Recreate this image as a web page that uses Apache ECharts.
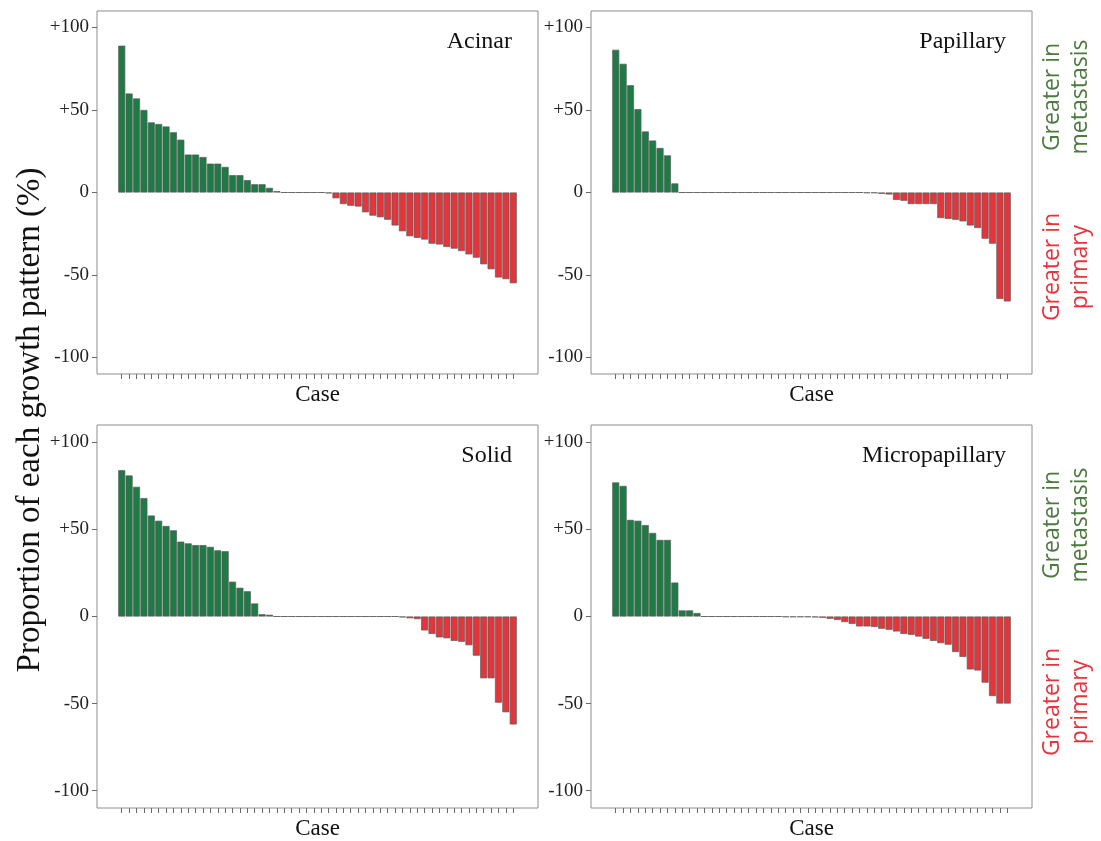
<!DOCTYPE html>
<html>
<head>
<meta charset="utf-8">
<title>Growth pattern differences</title>
<script src="https://cdn.jsdelivr.net/npm/echarts@6/dist/echarts.min.js"></script>
<style>
  html, body { margin: 0; padding: 0; background: #ffffff; }
  #chart { width: 1101px; height: 841px; }
</style>
</head>
<body>
<div id="chart"></div>
<script>
// Difference (metastasis minus primary) in the proportion of each growth pattern, per case, sorted.
const panelNames = ['Acinar', 'Papillary', 'Solid', 'Micropapillary'];

const acinar = [
  89, 60, 57, 50, 42.5, 41.5, 40, 36.5, 32, 23, 23, 21.5, 17.5, 17.5, 15.5, 10.5, 10.5, 7.5, 5, 5, 2.8,
  0.8, 0, 0, 0, 0, 0, 0, -0.5,
  -3.5, -7, -8, -8.5, -12, -14, -15, -16.5, -20, -23.5, -26.5, -27.5, -28.5, -31, -31.5, -33, -34,
  -35.5, -37.5, -39.5, -43.5, -46.5, -51.5, -52.5, -55
];
const papillary = [
  86.5, 78, 65, 50.5, 37, 31.5, 27, 22.5, 5.5,
  0, 0, 0, 0, 0, 0, 0, 0, 0, 0, 0, 0, 0, 0, 0, 0, 0, 0, 0, 0, 0, 0, 0, 0, 0, -0.3, -0.3,
  -0.8, -1.2, -4.5, -5, -7, -7, -7, -7, -15.5, -16, -16.5, -17.5, -20, -21.5, -28, -31, -64.5, -66
];
const solid = [
  84, 81, 74.5, 68, 58, 55, 52, 49.5, 43, 42, 41, 41, 40, 38, 37.5, 20, 16.5, 14.5, 7.5,
  1.3, 1,
  0, 0, 0, 0, 0, 0, 0, 0, 0, 0, 0, 0, 0, 0, 0, 0, 0,
  -0.5, -1, -1.5,
  -8, -10, -12, -12.5, -14, -14.5, -16.5, -22.5, -35.5, -35.5, -49.5, -55, -62
];
const micropapillary = [
  77, 75, 55.5, 55, 52.5, 48, 44, 44, 19.5, 3.5, 3.5, 2,
  0, 0, 0, 0, 0, 0, 0, 0, 0, 0, 0,
  -0.3, -0.3, -0.3, -0.3, -0.5,
  -0.7, -1.3, -2, -3.2, -4.2, -5.7, -5.7, -6, -7, -7.6, -8.6, -10, -10.5, -11.5, -12.8, -14,
  -15.3, -16.2, -20.4, -23.2, -30.4, -31, -38, -45.7, -50, -50
];

const yTickValues = [-100, -50, 0, 50, 100];
const caseCount = acinar.length;
const caseIndex = Array.from({ length: caseCount }, (_, i) => i);

const panelData = [acinar, papillary, solid, micropapillary];

const GREEN = '#1e7b45';
const RED = '#e2363c';
const SERIF = '"Liberation Serif", "Times New Roman", serif';
const SANS = '"Open Sans", "Noto Sans", sans-serif';

// Panel frames: two columns, two rows
const frames = [
  { left: 97, top: 11, width: 441, height: 363 },
  { left: 591, top: 11, width: 441, height: 363 },
  { left: 97, top: 425, width: 441, height: 385 },
  { left: 591, top: 425, width: 441, height: 385 }
];

const grids = frames.map(f => ({
  left: f.left, top: f.top, width: f.width, height: f.height,
  show: true, borderColor: '#8c8c8c', borderWidth: 1, backgroundColor: 'transparent',
  containLabel: false
}));

const xAxes = frames.map((f, i) => ({
  type: 'value',
  gridIndex: i,
  position: 'bottom',
  min: -3.35,
  max: caseCount - 1 + 3.35,
  name: 'Case',
  nameLocation: 'middle',
  nameGap: 9,
  nameTextStyle: { fontFamily: SERIF, fontSize: 23, color: '#111', verticalAlign: 'top' },
  axisLine: { show: false, onZero: false },
  splitLine: { show: false },
  axisLabel: { show: false },
  axisTick: {
    show: true, length: 5, customValues: caseIndex,
    lineStyle: { color: '#6a6a6a', width: 1 }
  }
}));

const yAxes = frames.map((f, i) => ({
  type: 'value',
  gridIndex: i,
  position: 'left',
  min: -110,
  max: 110,
  axisLine: { show: false, onZero: false },
  splitLine: { show: false },
  axisTick: {
    show: true, length: 5, customValues: yTickValues,
    lineStyle: { color: '#6a6a6a', width: 1 }
  },
  axisLabel: {
    customValues: yTickValues,
    margin: 8,
    fontFamily: SERIF,
    fontSize: 19,
    color: '#222',
    formatter: v => (v > 0 ? '+' + v : String(v))
  }
}));

const series = panelData.map((vals, i) => ({
  type: 'bar',
  name: panelNames[i],
  xAxisIndex: i,
  yAxisIndex: i,
  barWidth: 7,
  data: vals.map((v, k) => [caseIndex[k], v]),
  itemStyle: {
    color: p => (p.value[1] >= 0 ? GREEN : RED),
    borderColor: '#5a5a5a',
    borderWidth: 0.7
  }
}));

// Panel titles, right-aligned in the upper corner of each frame
const titles = frames.map((f, i) => ({
  text: panelNames[i],
  right: 1101 - (f.left + f.width - 26),
  top: f.top + 19,
  padding: 0,
  textStyle: { fontFamily: SERIF, fontSize: 24, fontWeight: 'normal', color: '#111' }
}));

function sideLabel(text, color, cx, cy) {
  return {
    type: 'text',
    x: cx, y: cy,
    rotation: Math.PI / 2,
    style: {
      text: text,
      fill: color,
      font: '23px ' + SANS,
      lineHeight: 28,
      align: 'center', verticalAlign: 'middle',
      textAlign: 'center', textVerticalAlign: 'middle'
    }
  };
}

const graphics = [
  {
    type: 'text',
    x: 30, y: 420,
    rotation: Math.PI / 2,
    style: {
      text: 'Proportion of each growth pattern (%)',
      fill: '#111',
      font: '33px ' + SERIF,
      align: 'center', verticalAlign: 'middle',
      textAlign: 'center', textVerticalAlign: 'middle'
    }
  },
  sideLabel('Greater in\nmetastasis', '#4d7a3f', 1066, 97),
  sideLabel('Greater in\nprimary', '#e8333c', 1066, 267),
  sideLabel('Greater in\nmetastasis', '#4d7a3f', 1066, 525),
  sideLabel('Greater in\nprimary', '#e8333c', 1066, 702)
];

const chart = echarts.init(document.getElementById('chart'), null, { renderer: 'canvas' });
chart.setOption({
  animation: false,
  backgroundColor: '#ffffff',
  title: titles,
  grid: grids,
  xAxis: xAxes,
  yAxis: yAxes,
  series: series,
  graphic: graphics
});
</script>
</body>
</html>
